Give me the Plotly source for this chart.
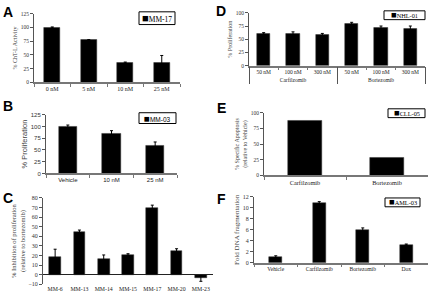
import plotly.graph_objects as go

# ---- data ----
a_cats = ["0 nM", "5 nM", "10 nM", "25 nM"]
a_vals = [100, 77, 36, 35]
a_err = [1, 1, 1, 14]

b_cats = ["Vehicle", "10 nM", "25 nM"]
b_vals = [100, 84, 60]
b_err = [3, 7, 7]

c_cats = ["MM-6", "MM-13", "MM-14", "MM-15", "MM-17", "MM-20", "MM-23"]
c_vals = [18.5, 45, 16, 21, 70, 25, -4]
c_err = [8, 1.5, 4.5, 0.8, 2.5, 2, 3]

d_groups = ["Carfilzomib"] * 3 + ["Bortezomib"] * 3
d_doses = ["50 nM", "100 nM", "300 nM", "50 nM", "100 nM", "300 nM"]
d_vals = [61, 60, 58, 80, 72, 70]
d_err = [1.5, 4, 3, 2, 3, 5]

e_cats = ["Carfilzomib", "Bortezomib"]
e_vals = [87, 29]

f_cats = ["Vehicle", "Carfilzomib", "Bortezomib", "Dox"]
f_vals = [1.05, 10.9, 6.0, 3.3]
f_err = [0.2, 0.25, 0.35, 0.1]

W, H = 429, 296
SERIF = "Liberation Serif, Times New Roman, serif"
SANS = "Liberation Sans, Arial, sans-serif"

def dx(a, b):
    return [a / W, b / W]

def dy(top, bottom):
    return [1 - bottom / H, 1 - top / H]

fig = go.Figure()

def add_bar(x, y, err, n, width):
    kw = {}
    if err is not None:
        kw["error_y"] = dict(type="data", array=err, visible=True, color="black", thickness=1, width=1.5)
    xa = "x" if n == 1 else f"x{n}"
    ya = "y" if n == 1 else f"y{n}"
    fig.add_trace(go.Bar(x=x, y=y, marker=dict(color="black", line=dict(color="#333", width=0.5)),
                         width=width, xaxis=xa, yaxis=ya, showlegend=False, **kw))

add_bar(a_cats, a_vals, a_err, 1, 0.44)
add_bar(b_cats, b_vals, b_err, 2, 0.42)
add_bar(c_cats, c_vals, c_err, 3, 0.48)
add_bar([d_groups, d_doses], d_vals, d_err, 4, 0.45)
add_bar(e_cats, e_vals, None, 5, 0.41)
add_bar(f_cats, f_vals, f_err, 6, 0.30)

def xax(dom, anchor, font, size, **kw):
    d = dict(domain=dom, anchor=anchor, showline=True, linecolor="#777", linewidth=1.5,
             ticks="outside", ticklen=3, tickcolor="#777", tickson="boundaries",
             tickfont=dict(family=font, size=size, color="#222"), fixedrange=True)
    d.update(kw)
    return d

def yax(dom, anchor, rng, dtick, title, font, size, tsize, **kw):
    d = dict(domain=dom, anchor=anchor, range=rng, dtick=dtick, showline=True, linecolor="#555",
             linewidth=1, ticks="outside", ticklen=3, tickcolor="#555", showgrid=False,
             zeroline=False, tickfont=dict(family=font, size=size, color="#333"), fixedrange=True,
             title=dict(text=title, font=dict(family=font, size=tsize, color="#444"), standoff=2))
    d.update(kw)
    return d

layout = dict(
    width=W, height=H, margin=dict(l=0, r=0, t=0, b=0),
    paper_bgcolor="white", plot_bgcolor="white", bargap=0,
    xaxis=xax(dx(34, 180), "y", SERIF, 6),
    yaxis=yax(dy(11, 81), "x", [0, 125], 25, "% ChT-L Activity", SERIF, 5.5, 6),
    xaxis2=xax(dx(46, 177), "y2", SANS, 6),
    yaxis2=yax(dy(114, 174), "x2", [0, 125], 25, "% Proliferation", SANS, 6, 7.5),
    xaxis3=xax(dx(43, 213), "y3", SERIF, 5.8, showline=False, ticks=""),
    yaxis3=yax(dy(199, 287), "x3", [-10, 80], 10, "% Inhibition of proliferation<br>(relative to bortezomib)",
               SERIF, 6, 6.5, zeroline=True, zerolinecolor="#222", zerolinewidth=1),
    xaxis4=xax(dx(249, 425), "y4", SERIF, 5.5, showdividers=True, dividercolor="#555", dividerwidth=1),
    yaxis4=yax(dy(10, 64), "x4", [0, 100], 25, "% Proliferation", SERIF, 5.5, 6),
    xaxis5=xax(dx(264, 428), "y5", SERIF, 6.3),
    yaxis5=yax(dy(112, 176), "x5", [0, 100], 25, "% Specific Apoptosis<br>(relative to Vehicle)", SERIF, 5.5, 6),
    xaxis6=xax(dx(254, 428), "y6", SERIF, 5.6),
    yaxis6=yax(dy(198, 265), "x6", [0, 12], 2, "Fold DNA fragmentation", SERIF, 6, 7),
)
fig.update_layout(**layout)

# panel letters
letters = [("A", 8, 9), ("B", 8, 105), ("C", 8, 199), ("D", 221, 8), ("E", 221, 107), ("F", 221, 200)]
for t, x, y in letters:
    fig.add_annotation(text=f"<b>{t}</b>", x=x / W, y=1 - y / H, xref="paper", yref="paper",
                       showarrow=False, font=dict(family=SANS, size=14, color="black"),
                       xanchor="center", yanchor="middle")

# legend boxes
legs = [("MM-17", 139, 175, 9, 22, SERIF, 7.5), ("MM-03", 139, 176, 112, 123, SANS, 6.5),
        ("NHL-01", 384, 425, 8, 17, SERIF, 6.3), ("CLL-05", 388, 425, 108, 117, SERIF, 6.3),
        ("AML-03", 385, 420, 199, 208, SERIF, 6.3)]
for name, x0, x1, y0, y1, font, size in legs:
    fig.add_shape(type="rect", xref="paper", yref="paper", x0=x0 / W, x1=x1 / W,
                  y0=1 - y1 / H, y1=1 - y0 / H, line=dict(color="black", width=1), fillcolor="white")
    sq = f"<span style='font-size:{size * 1.5:.1f}px'>■</span>"
    fig.add_annotation(text=sq + name, x=(x0 + x1) / 2 / W, y=1 - (y0 + y1) / 2 / H,
                       xref="paper", yref="paper", showarrow=False,
                       font=dict(family=font, size=size, color="black"), xanchor="center", yanchor="middle")

fig.write_html("out.html", config={"displayModeBar": False},
               post_script="document.body.style.margin='0';document.body.style.overflow='hidden';")
